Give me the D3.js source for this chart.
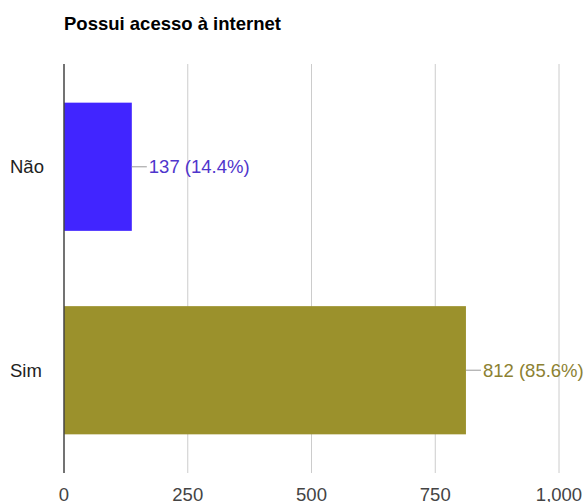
<!DOCTYPE html>
<html><head><meta charset="utf-8">
<script src="https://cdn.jsdelivr.net/npm/d3@7"></script>
<style>body{margin:0;background:#fff}svg{display:block}text{font-family:"Liberation Sans",Arial,sans-serif}</style>
</head><body>
<script>
const title = "Possui acesso à internet";
const categories = ["Não", "Sim"];
const values = [137, 812];
const percents = ["14.4%", "85.6%"];
const barColors = ["#4125ff", "#9b912c"];
const labelColors = ["#4f35cc", "#8c8132"];
const tickValues = [0, 250, 500, 750, 1000];
const tickLabels = ["0", "250", "500", "750", "1,000"];

const W = 588, H = 502;
const svg = d3.select("body").append("svg").attr("width", W).attr("height", H);
const x = d3.scaleLinear().domain([0, 1000]).range([64, 559]);
const y = d3.scaleBand().domain(categories).range([64, 473]).paddingInner(0.37).paddingOuter(0.19);

svg.append("text").attr("x", 64).attr("y", 30).attr("font-size", 18.5).attr("font-weight", "bold").attr("fill", "#000").text(title);

// gridlines
svg.append("g").selectAll("line").data(tickValues.slice(1)).join("line")
  .attr("x1", d => x(d)).attr("x2", d => x(d)).attr("y1", 64).attr("y2", 473)
  .attr("stroke", "#cccccc").attr("stroke-width", 1);

// tick labels
svg.append("g").selectAll("text").data(tickValues).join("text")
  .attr("x", d => x(d)).attr("y", 501).attr("text-anchor", "middle")
  .attr("font-size", 18.5).attr("fill", "#444").text((d, i) => tickLabels[i]);

// bars
svg.append("g").selectAll("rect").data(values).join("rect")
  .attr("x", x(0)).attr("y", (d, i) => y(categories[i]))
  .attr("width", d => x(d) - x(0)).attr("height", y.bandwidth())
  .attr("fill", (d, i) => barColors[i]);

// axis line
svg.append("line").attr("x1", x(0)).attr("x2", x(0)).attr("y1", 64).attr("y2", 473)
  .attr("stroke", "#444").attr("stroke-width", 1.5);

// category labels
svg.append("g").selectAll("text").data(categories).join("text")
  .attr("x", 10).attr("y", d => y(d) + y.bandwidth() / 2 + 6.5)
  .attr("font-size", 18.5).attr("fill", "#222").text(d => d);

// leader lines & value labels
const lab = svg.append("g").selectAll("g").data(values).join("g");
lab.append("line")
  .attr("x1", d => x(d)).attr("x2", d => x(d) + 15)
  .attr("y1", (d, i) => y(categories[i]) + y.bandwidth() / 2)
  .attr("y2", (d, i) => y(categories[i]) + y.bandwidth() / 2)
  .attr("stroke", "#aaa").attr("stroke-width", 1.2);
lab.append("text")
  .attr("x", d => x(d) + 17)
  .attr("y", (d, i) => y(categories[i]) + y.bandwidth() / 2 + 6.5)
  .attr("font-size", 18.5).attr("fill", (d, i) => labelColors[i])
  .text((d, i) => `${d} (${percents[i]})`);
</script>
</body></html>
